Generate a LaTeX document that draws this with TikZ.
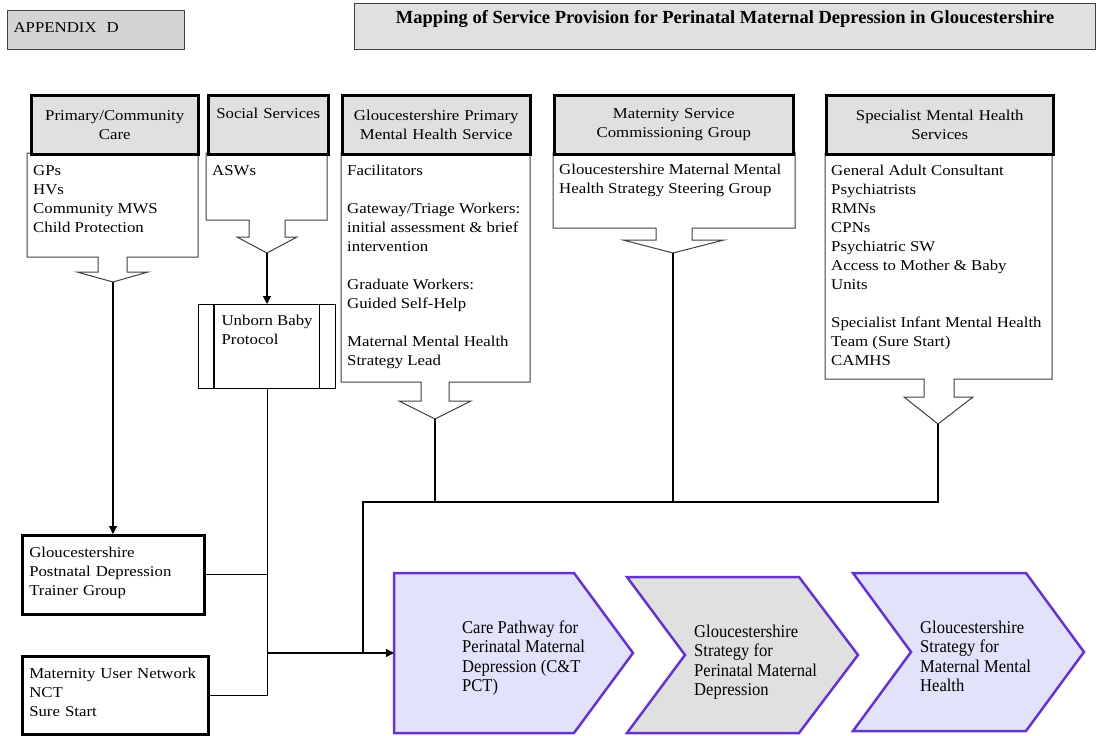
\documentclass[tikz,border=0pt]{standalone}
\usepackage{fontspec}
\setmainfont{Liberation Serif}[FakeStretch=1.12]
\newfontfamily\titlefont{Liberation Serif}
\newfontfamily\chevfont{Liberation Serif}[FakeStretch=0.92]
\usetikzlibrary{arrows.meta}
\definecolor{hdgray}{RGB}{224,224,224}
\definecolor{apgray}{RGB}{212,212,212}
\definecolor{lav}{RGB}{226,226,250}
\definecolor{chevpurple}{RGB}{102,51,204}
\definecolor{edgegray}{RGB}{64,64,64}
\begin{document}
\begin{tikzpicture}[x=1pt, y=-1pt,
   every node/.style={font=\fontsize{15}{19}\selectfont, inner xsep=5pt, inner ysep=12pt},
   head/.style={draw, line width=2.5pt, fill=hdgray, anchor=north west, align=center, minimum height=59pt},
   list/.style={anchor=north west, align=left, inner xsep=6pt},
   callout/.style={draw=edgegray, line width=1pt, fill=white},
   group/.style={draw, line width=2.5pt, anchor=north west, align=left, inner xsep=7pt,
                 inner ysep=9pt, minimum height=79pt, text depth=44pt},
   chevron/.style={draw=chevpurple, line width=2.5pt, fill=lav},
   chevtext/.style={anchor=north west, align=left, inner sep=0pt,
                    font=\chevfont\fontsize{18}{19.5}\selectfont},
   link/.style={line width=1.1pt},
   feed/.style={link, -{Triangle[length=8pt, width=8pt]}}]
\useasboundingbox (0,0) rectangle (1096,736);

\node[draw=edgegray, line width=1.2pt, fill=apgray, anchor=north west, text width=165pt,
      inner xsep=6pt, inner ysep=0pt, minimum height=39pt, text height=10.5pt, text depth=6pt]
      (app) at (7,10) {APPENDIX\ \ D};
\node[draw=edgegray, line width=1.2pt, fill=hdgray, anchor=north west, minimum width=741pt,
      minimum height=46pt, inner ysep=0pt, text height=13pt, text depth=19pt,
      font=\titlefont\bfseries\fontsize{18.5}{22}\selectfont]
      (title) at (354,3) {Mapping of Service Provision for Perinatal Maternal Depression in Gloucestershire};

\draw[callout] (27,153) -- (198,153) -- (198,257) -- (127,257) -- (127,272) -- (148,272)
   -- (113,282) coordinate (pctip) -- (77,272) -- (98,272) -- (98,257) -- (27,257) -- cycle;
\draw[callout] (206,153) -- (327,153) -- (327,220) -- (285,220) -- (285,237) -- (297,237)
   -- (267,253) coordinate (sstip) -- (237,237) -- (249,237) -- (249,220) -- (206,220) -- cycle;
\draw[callout] (341,153) -- (530,153) -- (530,382) -- (449,382) -- (449,401) -- (471,401)
   -- (435,419) coordinate (pmtip) -- (399,401) -- (421,401) -- (421,382) -- (341,382) -- cycle;
\draw[callout] (553,152) -- (795,152) -- (795,228) -- (692,228) -- (692,240) -- (724,240)
   -- (673,253) coordinate (mstip) -- (623,240) -- (656,240) -- (656,228) -- (553,228) -- cycle;
\draw[callout] (825,153) -- (1052,153) -- (1052,379) -- (954,379) -- (954,397) -- (973,397)
   -- (938,424) coordinate (smtip) -- (904,397) -- (924,397) -- (924,379) -- (825,379) -- cycle;

\node[head, text width=157pt] (pc) at (30,94) {Primary/Community\\Care};
\node[head, text width=110pt, text depth=23pt] (ss) at (207,94) {Social Services};
\node[head, text width=178pt] (pm) at (341,94) {Gloucestershire Primary\\Mental Health Service};
\node[head, text width=229pt] (ms) at (553,94) {Maternity Service\\Commissioning Group};
\node[head, text width=217pt] (sm) at (825,94) {Specialist Mental Health\\Services};

\node[list] (pcl) at (27,153) {GPs\\HVs\\Community MWS\\Child Protection};
\node[list] (ssl) at (206,153) {ASWs};
\node[list] (pml) at (341,153) {Facilitators\\[19pt]Gateway/Triage Workers:\\initial assessment \& brief\\intervention\\[19pt]Graduate Workers:\\Guided Self-Help\\[19pt]Maternal Mental Health\\Strategy Lead};
\node[list] (msl) at (553,152) {Gloucestershire Maternal Mental\\Health Strategy Steering Group};
\node[list] (sml) at (825,153) {General Adult Consultant\\Psychiatrists\\RMNs\\CPNs\\Psychiatric SW\\Access to Mother \& Baby\\Units\\[19pt]Specialist Infant Mental Health\\Team (Sure Start)\\CAMHS};

\node[draw, line width=1.2pt, anchor=north west, minimum width=137pt, minimum height=84pt,
      align=left, inner ysep=0pt, text depth=33pt] (ubp) at (198,304) {Unborn Baby\\Protocol};
\draw[line width=1.2pt] ([xshift=16pt]ubp.north west) -- ([xshift=16pt]ubp.south west)
                        ([xshift=-17pt]ubp.north east) -- ([xshift=-17pt]ubp.south east);

\node[group, text width=168pt] (ptg) at (21,534) {Gloucestershire\\Postnatal Depression\\Trainer Group};
\node[group, text width=172pt, minimum height=78pt] (mun) at (21,655) {Maternity User Network\\NCT\\Sure Start};

\draw[chevron] (394,573) -- (574,573) -- (633,653) -- (574,733) -- (394,733) -- (394,653) coordinate (cpw) -- cycle;
\draw[chevron, fill=hdgray] (627,577) -- (799,577) -- (858,655) -- (799,733) -- (627,733) -- (685,655) -- cycle;
\draw[chevron] (853,573) -- (1026,573) -- (1084,652) -- (1026,731) -- (853,731) -- (911,652) -- cycle;
\node[chevtext] (cp) at (462,620.5) {Care Pathway for\\Perinatal Maternal\\Depression (C\&T\\PCT)};
\node[chevtext] (gpd) at (694,624.5) {Gloucestershire\\Strategy for\\Perinatal Maternal\\Depression};
\node[chevtext] (gmh) at (920,620.5) {Gloucestershire\\Strategy for\\Maternal Mental\\Health};

\coordinate (jn) at (363,502);
\draw[feed] (pctip) -- (pctip |- ptg.north);
\draw[feed] (sstip) -- (sstip |- ubp.north);
\draw[link] (ubp.south) -- (ubp.south |- mun.east) -- (mun.east);
\draw[link] (ptg.east) -- (ptg.east -| ubp.south);
\draw[link] (smtip) |- (jn) -- (jn |- cpw);
\draw[link] (pmtip) -- (pmtip |- jn);
\draw[link] (mstip) -- (mstip |- jn);
\draw[feed] (ubp.south |- cpw) -- (cpw);
\end{tikzpicture}
\end{document}
